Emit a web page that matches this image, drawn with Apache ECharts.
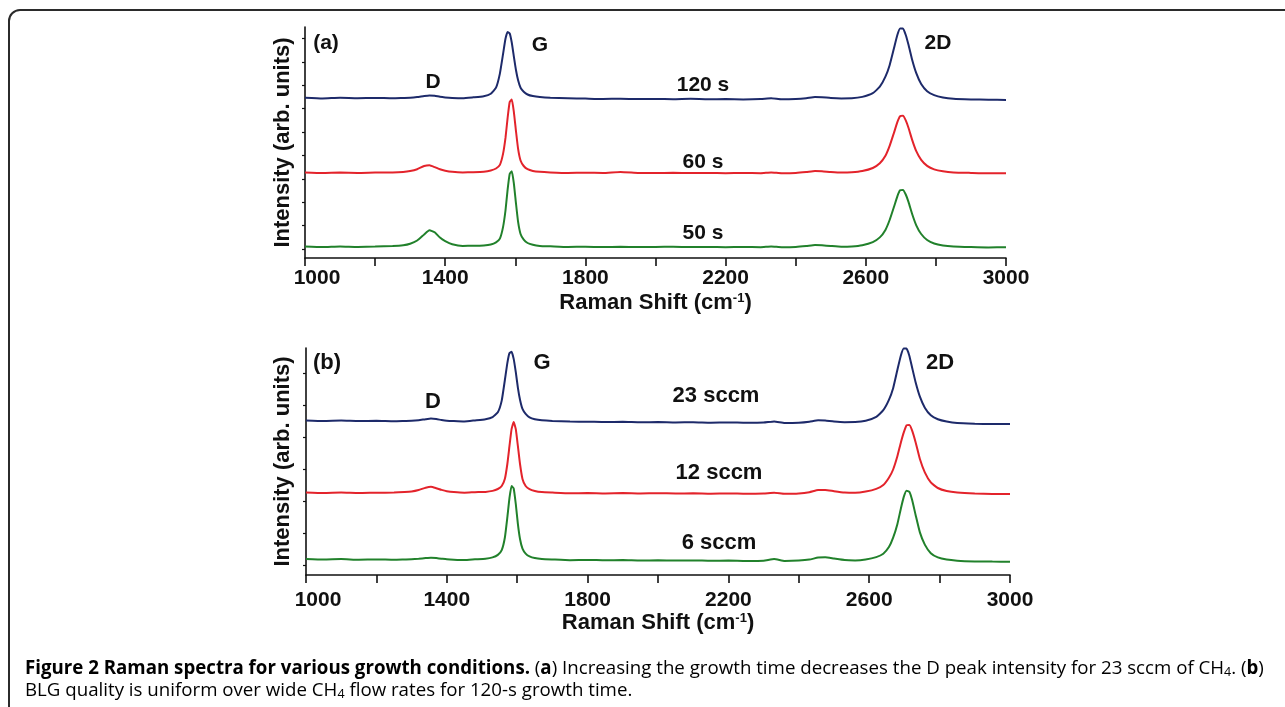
<!DOCTYPE html>
<html>
<head>
<meta charset="utf-8">
<title>Raman spectra</title>
<script src="https://cdn.jsdelivr.net/npm/echarts@6/dist/echarts.min.js"></script>
<style>
html, body { margin: 0; padding: 0; background: #fff; }
#chart { width: 1285px; height: 707px; }
</style>
</head>
<body>
<div id="chart"></div>
<script>
// Raman shift (cm-1) sampling, shared by every spectrum
var ramanShift = [1000,1050,1100,1150,1200,1250,
	1280,1300,1320,1340,1355,1370,1385,1400,1420,1450,
	1480,1510,1530,1545,1556,1565,1572,1578,1584,1590,
	1596,1602,1608,1615,1624,1635,1650,1670,1700,1750,
	1800,1850,1900,1950,2000,2050,2100,2150,2200,2250,
	2300,2330,2360,2400,2430,2455,2475,2500,2530,2560,
	2590,2620,2640,2656,2668,2680,2690,2698,2706,2714,
	2722,2732,2744,2758,2775,2795,2820,2850,2900,2950,
	3000];

// (a) growth time, offset spectra (arb. units)
var time120s = [160.3,159.6,160.2,159.8,160.1,159.7,
	160.0,160.2,160.9,162.0,162.6,162.2,161.2,160.6,160.1,159.8,
	160.7,161.8,164.2,170.3,184.4,203.8,219.2,225.9,224.6,215.2,
	201.1,187.7,177.7,170.3,166.3,163.5,161.9,160.9,160.2,159.8,
	159.4,159.0,159.3,158.9,159.1,158.8,159.2,158.8,158.9,158.6,
	158.9,159.7,158.7,159.0,159.8,161.0,160.8,160.0,159.6,159.7,
	161.1,164.8,171.3,181.3,192.8,209.2,223.0,229.5,229.5,223.0,
	212.9,198.5,184.8,174.0,166.8,162.9,160.6,159.3,158.6,158.2,
	158.1];
var time60s = [85.6,85.0,85.4,85.1,85.5,85.6,
	86.1,87.0,88.8,92.0,92.8,90.9,88.7,87.3,86.2,85.6,
	85.8,86.3,87.5,89.5,93.1,104.1,120.1,139.9,156.0,158.5,
	145.7,126.7,109.1,97.5,92.0,88.8,87.1,86.2,85.6,85.0,
	85.3,85.0,86.0,85.1,84.9,85.2,84.9,85.1,84.8,85.0,
	84.8,85.6,84.8,85.0,85.9,87.0,86.8,86.0,85.4,85.7,
	86.9,90.0,94.7,102.2,112.1,124.8,135.8,141.9,142.2,137.6,
	130.0,118.4,106.8,98.1,92.1,88.6,86.7,85.6,85.1,84.7,
	84.8];
var time50s = [11.5,11.0,11.6,11.1,11.4,12.0,
	12.8,14.3,17.5,23.6,27.7,25.7,20.4,16.9,13.8,12.1,
	12.2,12.6,13.5,15.7,19.4,30.9,47.5,68.1,84.1,86.8,
	74.2,54.4,36.1,24.0,18.3,15.0,13.2,12.1,11.7,11.0,
	11.3,10.9,11.2,10.9,11.1,11.3,10.9,11.0,10.8,11.0,
	10.8,11.5,10.8,11.0,11.9,13.0,12.7,12.0,11.3,11.6,
	12.8,15.9,20.6,28.1,38.0,50.7,61.7,67.8,68.1,63.5,
	55.9,44.3,32.7,24.0,18.0,14.5,12.6,11.6,11.0,10.6,
	10.8];

// (b) CH4 flow rate, offset spectra (arb. units)
var flow23 = [154.5,154.0,154.4,153.9,154.2,153.7,
	154.0,154.2,154.8,155.8,156.4,155.9,155.0,154.3,153.9,153.5,
	154.6,155.8,157.9,162.7,174.4,195.0,211.9,221.8,223.2,216.1,
	202.8,187.2,175.3,166.1,161.2,157.7,155.8,154.7,154.0,153.4,
	153.3,152.9,153.2,152.7,152.9,152.5,152.8,152.3,152.6,152.2,
	152.4,153.6,152.0,152.3,153.3,154.8,154.4,153.4,152.8,152.9,
	154.3,158.2,164.8,175.1,186.8,205.0,219.5,226.4,226.4,219.3,
	207.3,192.5,178.3,167.3,159.7,155.7,153.4,151.9,151.3,151.0,
	151.1];
var flow12 = [82.5,82.0,82.4,81.9,82.3,82.4,
	82.9,83.5,85.0,87.3,88.2,86.8,85.1,83.8,82.9,82.3,
	82.8,83.1,84.1,86.0,89.0,96.2,111.0,128.8,145.9,152.9,
	145.8,128.8,111.0,96.1,89.0,85.8,84.0,82.9,82.4,81.7,
	82.0,81.6,81.9,81.5,81.8,81.5,81.7,81.3,81.6,81.2,
	81.5,82.3,81.3,81.6,82.8,85.0,85.1,83.8,82.5,82.2,
	83.4,86.1,89.9,97.2,105.5,118.7,132.6,142.4,149.7,150.0,
	144.4,132.6,116.0,102.7,92.6,87.0,84.0,82.5,81.5,81.1,
	81.0];
var flow6 = [16.0,15.5,15.9,15.3,15.6,15.2,
	15.5,15.7,16.2,16.9,17.3,16.9,16.3,15.7,15.3,15.0,
	15.7,16.3,17.6,20.1,24.8,37.5,57.6,76.9,88.9,86.6,
	71.0,50.9,36.0,26.3,21.4,18.6,16.9,16.0,15.5,14.8,
	15.1,14.7,15.0,14.5,14.7,14.4,14.6,14.2,14.5,14.1,
	14.3,16.1,14.0,14.4,15.4,17.5,17.7,16.4,14.9,14.6,
	15.5,17.9,21.3,27.9,37.3,50.8,66.5,77.9,84.3,83.2,
	74.9,59.8,42.6,30.4,21.8,17.6,15.4,14.3,13.6,13.4,
	13.3];

var seriesNamesA = ['120 s', '60 s', '50 s'];
var seriesNamesB = ['23 sccm', '12 sccm', '6 sccm'];
var peakNames = ['D', 'G', '2D'];

// unlabelled intensity ticks
var yTicksA = [9, 32.4, 55.8, 79.2, 102.6, 126, 149.4, 172.8, 196.2, 219.6];
var yTicksB = [10, 42, 74, 106, 138, 170, 202];

var colors = ['#1d2a6a', '#e3232b', '#21812b'];
var axisFont = 'Liberation Sans, Arial, sans-serif';

function pairs(xs, ys) {
	var out = [];
	for (var i = 0; i < xs.length; i++) out.push([xs[i], ys[i]]);
	return out;
}

function xAxisFor(gridIndex, labelMargin, nameGap) {
	return {
		type: 'value', gridIndex: gridIndex, min: 1000, max: 3000, interval: 200,
		name: 'Raman Shift (cm{sup|-1})',
		nameLocation: 'middle', nameGap: nameGap,
		nameTextStyle: {
			fontFamily: axisFont, fontWeight: 'bold', fontSize: 22, color: '#111',
			rich: {sup: {fontFamily: axisFont, fontWeight: 'bold', fontSize: 13, color: '#111', verticalAlign: 'top', padding: [0, 0, 9, 0]}}
		},
		axisLine: {lineStyle: {color: '#111', width: 1.6}},
		axisTick: {show: true, inside: false, length: 8, lineStyle: {color: '#111', width: 1.6}},
		axisLabel: {
			margin: labelMargin, fontFamily: axisFont, fontWeight: 'bold', fontSize: 21, color: '#111',
			showMinLabel: true, showMaxLabel: true,
			rich: {first: {fontFamily: axisFont, fontWeight: 'bold', fontSize: 21, color: '#111', padding: [0, 0, 0, 24]}},
			formatter: function (v) {
				if (v === 1000) return '{first|1000}';
				return (v - 1000) % 400 === 0 ? String(v) : '';
			}
		},
		splitLine: {show: false}
	};
}

function yAxisFor(gridIndex, max, ticks, nameGap) {
	return {
		type: 'value', gridIndex: gridIndex, min: 0, max: max,
		name: 'Intensity (arb. units)',
		nameLocation: 'middle', nameGap: nameGap,
		nameTextStyle: {fontFamily: axisFont, fontWeight: 'bold', fontSize: 22, color: '#111'},
		axisLine: {show: true, lineStyle: {color: '#111', width: 1.6}},
		axisTick: {show: true, inside: false, length: 3, customValues: ticks, lineStyle: {color: '#111', width: 1.2}},
		axisLabel: {show: false},
		splitLine: {show: false}
	};
}

function spectrum(name, ys, idx, color) {
	return {
		name: name, type: 'line', xAxisIndex: idx, yAxisIndex: idx,
		data: pairs(ramanShift, ys),
		showSymbol: false, symbol: 'none', smooth: 0.15,
		lineStyle: {color: color, width: 2},
		itemStyle: {color: color},
		animation: false
	};
}

function note(text, x, y, size) {
	return {
		type: 'text', x: x, y: y, z: 10,
		style: {
			text: text, fill: '#111', align: 'center', verticalAlign: 'middle',
			font: 'bold ' + size + 'px ' + axisFont
		}
	};
}

var captionFont = 'Open Sans, Noto Sans, sans-serif';
var captionRich = {
	b: {fontFamily: captionFont, fontWeight: 'bold', fontSize: 18.7, color: '#111'},
	r: {fontFamily: captionFont, fontSize: 18.7, color: '#333'},
	sub: {fontFamily: captionFont, fontSize: 12.5, color: '#333', verticalAlign: 'bottom', padding: [7, 0, 0, 0]}
};

var myChart = echarts.init(document.getElementById('chart'), null, {renderer: 'canvas'});

option = {
	backgroundColor: '#fff',
	animation: false,
	grid: [
		{left: 305, top: 27, width: 701, height: 231},
		{left: 306, top: 348, width: 704, height: 227}
	],
	xAxis: [xAxisFor(0, 10, 34), xAxisFor(1, 15, 37)],
	yAxis: [yAxisFor(0, 231, yTicksA, 11), yAxisFor(1, 227, yTicksB, 12)],
	series: [
		spectrum(seriesNamesA[0], time120s, 0, colors[0]),
		spectrum(seriesNamesA[1], time60s, 0, colors[1]),
		spectrum(seriesNamesA[2], time50s, 0, colors[2]),
		spectrum(seriesNamesB[0], flow23, 1, colors[0]),
		spectrum(seriesNamesB[1], flow12, 1, colors[1]),
		spectrum(seriesNamesB[2], flow6, 1, colors[2])
	],
	graphic: [
		{
			type: 'rect', z: 0, silent: true,
			shape: {x: 9, y: 10, width: 1400, height: 800, r: 11},
			style: {fill: 'none', stroke: '#2b2b2b', lineWidth: 2}
		},
		// panel (a)
		note('(a)', 326, 43, 21),
		note(peakNames[0], 433, 82, 21),
		note(peakNames[1], 540, 45, 21),
		note(peakNames[2], 938, 43, 21),
		note(seriesNamesA[0], 703, 85, 21),
		note(seriesNamesA[1], 703, 162, 21),
		note(seriesNamesA[2], 703, 233, 21),
		// panel (b)
		note('(b)', 327, 363, 22),
		note(peakNames[0], 433, 402, 22),
		note(peakNames[1], 542, 363, 22),
		note(peakNames[2], 940, 363, 22),
		note(seriesNamesB[0], 716, 396, 22),
		note(seriesNamesB[1], 719, 473, 22),
		note(seriesNamesB[2], 719, 543, 22),
		// caption
		{
			type: 'text', x: 25, y: 669, z: 10,
			style: {
				text: '{b|Figure 2 Raman spectra for various growth conditions.}{r| (}{b|a}{r|) Increasing the growth time decreases the D peak intensity for 23 sccm of CH}{sub|4}{r|. (}{b|b}{r|)}',
				rich: captionRich, verticalAlign: 'middle', align: 'left'
			}
		},
		{
			type: 'text', x: 25, y: 691, z: 10,
			style: {
				text: '{r|BLG quality is uniform over wide CH}{sub|4}{r| flow rates for 120-s growth time.}',
				rich: captionRich, verticalAlign: 'middle', align: 'left'
			}
		}
	]
};

myChart.setOption(option);
</script>
</body>
</html>
